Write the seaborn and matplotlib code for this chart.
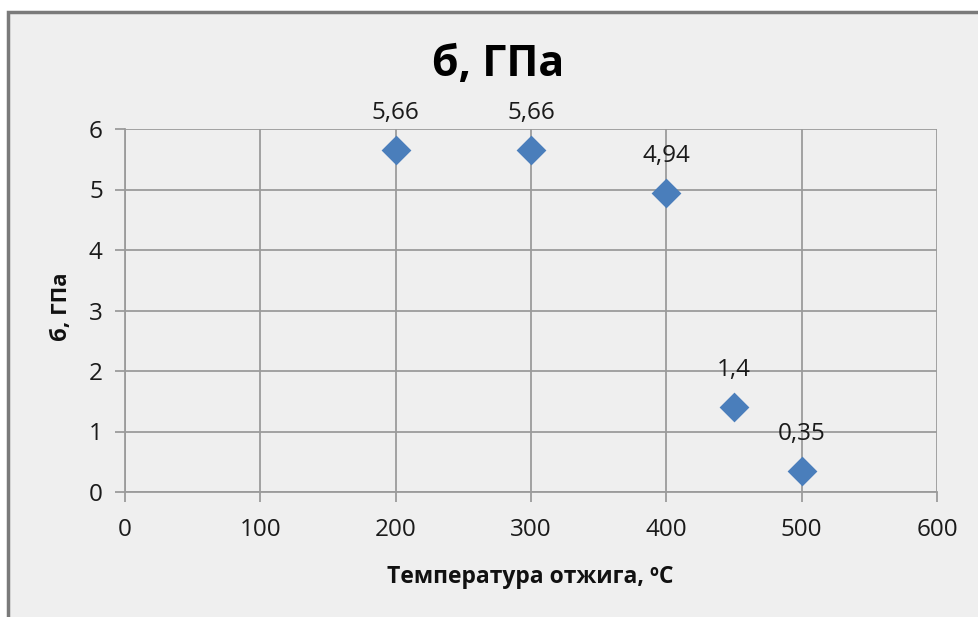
import matplotlib
matplotlib.use("Agg")
import matplotlib.pyplot as plt
from matplotlib.patches import Rectangle
import seaborn as sns
import pandas as pd

# Annealing temperature (°C) and stress (GPa)
temperature = [200, 300, 400, 450, 500]
stress = [5.66, 5.66, 4.94, 1.4, 0.35]
stress_labels = ["5,66", "5,66", "4,94", "1,4", "0,35"]
x_ticks = [0, 100, 200, 300, 400, 500, 600]
y_ticks = [0, 1, 2, 3, 4, 5, 6]

title_text = "б, ГПа"
x_label = "Температура отжига, ºC"
y_label = "б, ГПа"

BG = "#efefef"
GRID = "#9b9b9b"
MARKER = "#4a7ebb"

sns.set_theme(style="white")
plt.rcParams["font.family"] = ["Open Sans", "DejaVu Sans"]

W, H = 979, 617
fig = plt.figure(figsize=(W / 100, H / 100), dpi=100, facecolor="white")

# chart frame: grey panel with a dark outline on the top and left
frame = Rectangle((8 / W, -0.2), 2.0, 1 - 12 / H + 0.2,
                  transform=fig.transFigure, facecolor=BG,
                  edgecolor="#7a7a7a", linewidth=2.5, zorder=-10)
fig.patches.append(frame)

ax = fig.add_axes([125 / W, 1 - 492 / H, (937 - 125) / W, (492 - 129) / H])
ax.set_zorder(1)
ax.patch.set_alpha(0)

df = pd.DataFrame({"t": temperature, "s": stress})
sns.scatterplot(data=df, x="t", y="s", marker="D", s=230, color=MARKER,
                edgecolor=MARKER, linewidth=0, ax=ax, zorder=3)

for xv, yv, lab in zip(temperature, stress, stress_labels):
    ax.annotate(lab, (xv, yv), xytext=(0, 31), textcoords="offset pixels",
                ha="center", va="baseline", fontsize=17.5, color="#1a1a1a")

ax.set_xlim(0, 600)
ax.set_ylim(0, 6)
ax.set_xticks(x_ticks)
ax.set_yticks(y_ticks)
ax.grid(True, color=GRID, linewidth=1.3)
ax.set_axisbelow(True)
for side in ["top", "right"]:
    ax.spines[side].set_visible(False)
for side in ["left", "bottom"]:
    ax.spines[side].set_color(GRID)
    ax.spines[side].set_linewidth(1.3)
ax.tick_params(axis="both", which="major", length=7, width=1.3, color=GRID,
               labelsize=17.5, labelcolor="#1a1a1a", direction="out")
ax.tick_params(axis="x", pad=12)
ax.tick_params(axis="y", pad=9)
ax.xaxis.set_ticks_position("bottom")
ax.yaxis.set_ticks_position("left")

ax.set_xlabel("")
ax.set_ylabel("")
fig.text(530 / W, 1 - 577 / H, x_label, ha="center", va="center",
         fontsize=16.5, fontweight="bold", color="#111111")
fig.text(62 / W, 1 - 307 / H, y_label, ha="center", va="center",
         rotation=90, fontsize=16, fontweight="bold", color="#111111")
fig.text(498 / W, 1 - 64 / H, title_text, ha="center", va="center",
         fontsize=31, fontweight="bold", color="#000000")

fig.savefig("out.png", dpi=100, facecolor="white")
